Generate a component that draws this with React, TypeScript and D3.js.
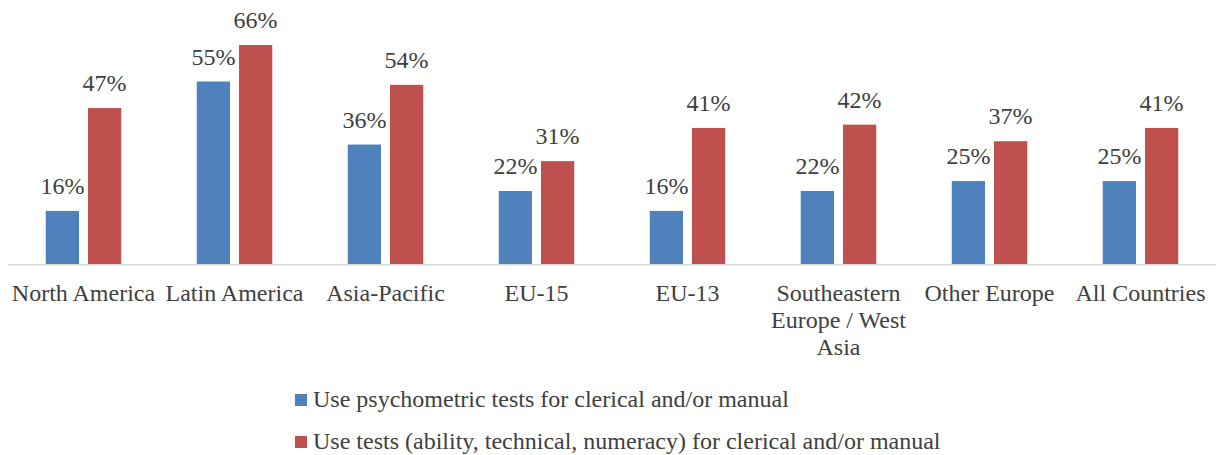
import React, { useRef, useEffect } from "react";
import * as d3 from "d3";

const categories = [
  "North America",
  "Latin America",
  "Asia-Pacific",
  "EU-15",
  "EU-13",
  "Southeastern Europe / West Asia",
  "Other Europe",
  "All Countries",
];
const seriesNames = [
  "Use psychometric tests for clerical and/or manual",
  "Use tests (ability, technical, numeracy) for clerical and/or manual",
];
const psychometric = [0.16, 0.55, 0.36, 0.22, 0.16, 0.22, 0.25, 0.25];
const abilityTests = [0.47, 0.66, 0.54, 0.31, 0.41, 0.42, 0.37, 0.41];
const colors = ["#4f81bd", "#c0504d"];

const W = 1216;
const H = 455;
const FONT = "Liberation Serif";
const TEXT = "#404040";

const App = () => {
  const svgRef = useRef<SVGSVGElement>(null);

  useEffect(() => {
    const svg = d3.select(svgRef.current);
    svg.selectAll("*").remove();

    const x0 = d3.scaleBand<string>()
      .domain(categories)
      .range([8, 1216])
      .paddingInner(0.5)
      .paddingOuter(0.25);
    const x1 = d3.scaleBand<string>()
      .domain(["0", "1"])
      .range([0, x0.bandwidth()])
      .paddingInner(0.213);
    const y = d3.scaleLinear().domain([0, 0.7]).range([264, 264 - 0.7 * 331.8]);

    const rows = categories.map((c, i) => ({ c, v: [psychometric[i], abilityTests[i]] }));
    const step = x0.step();

    // bars
    const groups = svg.append("g")
      .selectAll("g")
      .data(rows)
      .join("g")
      .attr("transform", d => `translate(${x0(d.c)},0)`);

    groups.selectAll("rect")
      .data(d => d.v.map((v, k) => ({ v, k })))
      .join("rect")
      .attr("x", d => x1(String(d.k))!)
      .attr("width", x1.bandwidth())
      .attr("y", d => y(d.v))
      .attr("height", d => y(0) - y(d.v))
      .attr("fill", d => colors[d.k]);

    // data labels
    groups.selectAll("text")
      .data(d => d.v.map((v, k) => ({ v, k })))
      .join("text")
      .attr("x", d => x1(String(d.k))! + x1.bandwidth() / 2)
      .attr("y", d => y(d.v) - 17)
      .attr("text-anchor", "middle")
      .attr("font-family", FONT)
      .attr("font-size", 24)
      .attr("fill", TEXT)
      .text(d => d3.format(".0%")(d.v));

    // axis line
    svg.append("line")
      .attr("x1", 8)
      .attr("x2", 1216)
      .attr("y1", 264.75)
      .attr("y2", 264.75)
      .attr("stroke", "#d9d9d9")
      .attr("stroke-width", 1.5);

    // category labels, wrapped to the band step
    const labels = svg.append("g")
      .selectAll("text")
      .data(categories)
      .join("text")
      .attr("x", d => x0(d)! + x0.bandwidth() / 2)
      .attr("y", 301)
      .attr("text-anchor", "middle")
      .attr("font-family", FONT)
      .attr("font-size", 24)
      .attr("fill", TEXT);

    labels.each(function (d) {
      const text = d3.select(this);
      const cx = +text.attr("x");
      const words = d.split(" ");
      let line: string[] = [];
      let lineNo = 0;
      let tspan = text.append("tspan").attr("x", cx).attr("y", 301);
      for (const w of words) {
        line.push(w);
        tspan.text(line.join(" "));
        if ((tspan.node() as SVGTextContentElement).getComputedTextLength() > step - 4 && line.length > 1) {
          line.pop();
          tspan.text(line.join(" "));
          line = [w];
          lineNo++;
          tspan = text.append("tspan").attr("x", cx).attr("y", 301 + lineNo * 27).text(w);
        }
      }
    });

    // legend
    const legend = svg.append("g")
      .selectAll("g")
      .data(seriesNames)
      .join("g")
      .attr("transform", (d, i) => `translate(295, ${394 + i * 42})`);
    legend.append("rect")
      .attr("width", 12)
      .attr("height", 12)
      .attr("fill", (d, i) => colors[i]);
    legend.append("text")
      .attr("x", 18)
      .attr("y", 13)
      .attr("font-family", FONT)
      .attr("font-size", 24)
      .attr("fill", TEXT)
      .text(d => d);
  }, []);

  return (
    <svg
      ref={svgRef}
      width={W}
      height={H}
      style={{ position: "absolute", left: 0, top: 0, background: "#fff" }}
    ></svg>
  );
};

export default App;
